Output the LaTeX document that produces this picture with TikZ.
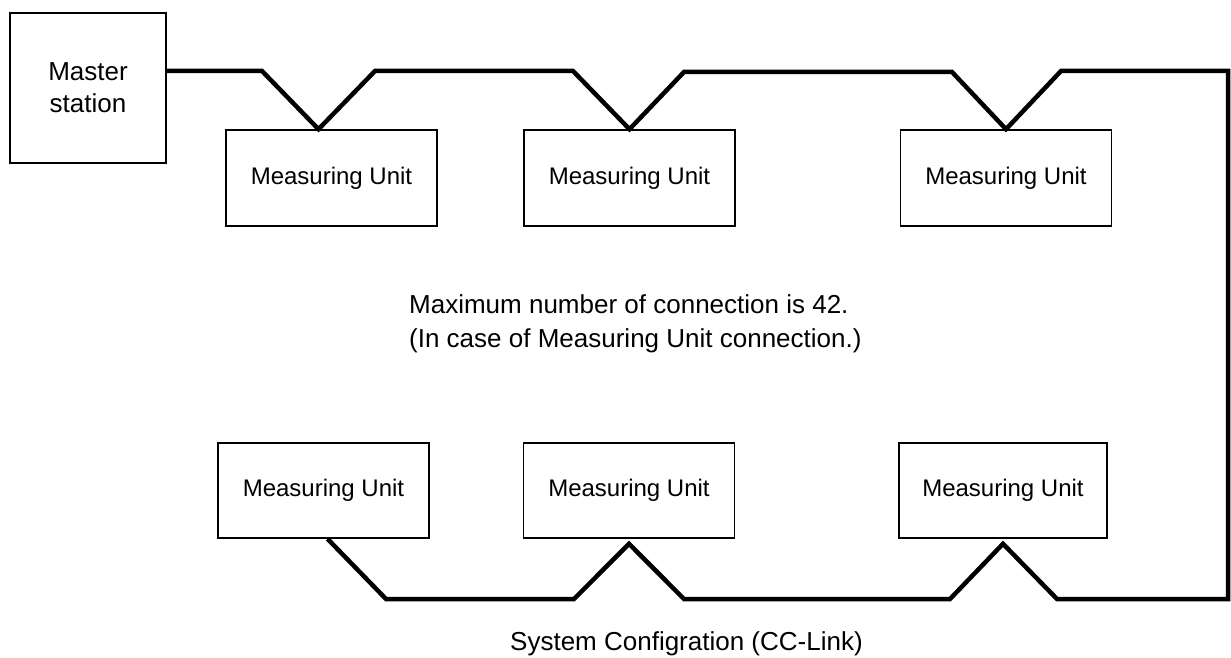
\documentclass[tikz,border=0pt]{standalone}
\usepackage{fontspec}
\setmainfont{Liberation Sans}
\begin{document}
\begin{tikzpicture}[x=1pt,y=-1pt,
  box/.style={draw,line width=1.6pt,inner sep=0pt,align=center,
    font=\fontsize{24}{30}\selectfont},
  unitbox/.style={box,minimum width=211pt,minimum height=96pt},
  wire/.style={line width=4.5pt,line join=miter},
  txt/.style={inner sep=0pt,font=\fontsize{26}{32}\selectfont}]
\useasboundingbox (0,0) rectangle (1231,658);
\node[box,minimum width=156pt,minimum height=150pt,font=\fontsize{26}{32}\selectfont] (master) at (88,88) {Master\\station};
\node[unitbox] (mu1) at (331.5,178) {Measuring Unit};
\node[unitbox] (mu2) at (629.5,178) {Measuring Unit};
\node[unitbox] (mu3) at (1006,178) {Measuring Unit};
\node[unitbox,minimum height=95pt] (mu4) at (323.5,490.5) {Measuring Unit};
\node[unitbox,minimum height=95pt] (mu5) at (629,490.5) {Measuring Unit};
\node[unitbox,minimum width=208pt,minimum height=95pt] (mu6) at (1003,490.5) {Measuring Unit};
\node[txt,anchor=base west] (note1) at (409,313) {Maximum number of connection is 42.};
\node[txt,anchor=base west] (note2) at (409,347) {(In case of Measuring Unit connection.)};
\node[txt,anchor=base west] (caption) at (510,650) {System Configration (CC-Link)};
\draw[wire] (master.east |- 0,71) -- (262,71) -- ([xshift=-13pt]mu1.north) -- (375,71)
  -- (573,71) -- (mu2.north) -- (684,72) -- (952,72) -- (mu3.north) -- (1061,71)
  -- (1228,71) -- (1228,599) -- (1057,599) -- ([yshift=-5pt]mu6.south) -- (950,599)
  -- (684,599) -- ([yshift=-5pt]mu5.south) -- (574,599) -- (386,599) -- ([xshift=4pt]mu4.south);
\end{tikzpicture}
\end{document}
